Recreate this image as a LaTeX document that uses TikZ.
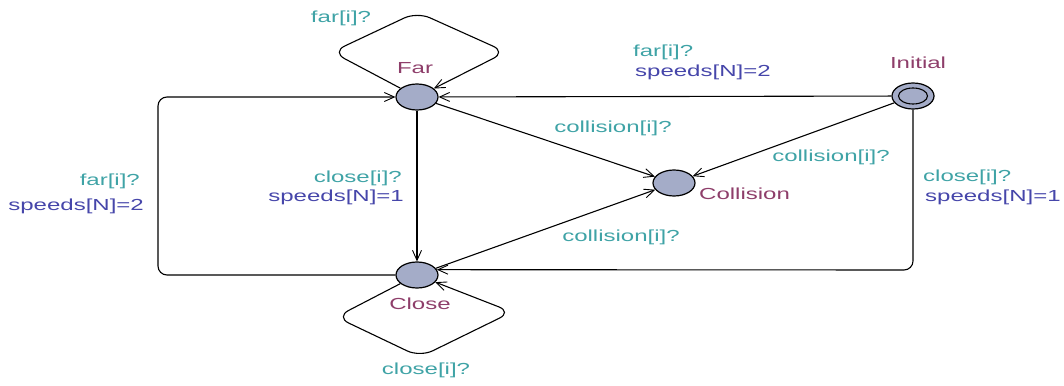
\documentclass[tikz,border=0pt]{standalone}
\usepackage{fontspec}
\usetikzlibrary{shapes.geometric,arrows.meta}
\newfontfamily\labfont[FakeStretch=1.5]{Liberation Sans}
\definecolor{syncc}{HTML}{3FA3A6}
\definecolor{updc}{HTML}{4646AA}
\definecolor{locc}{HTML}{8E3E6A}
\definecolor{locfill}{HTML}{A4ACC8}
\tikzset{
  loc/.style={ellipse, draw=black, line width=1.2pt, fill=locfill,
    minimum width=42pt, minimum height=26pt, inner sep=0pt},
  edge/.style={draw=black, line width=1.1pt,
    -{Straight Barb[length=10pt,width=9pt,line width=0.9pt]}},
  txt/.style={font=\labfont\fontsize{16}{19}\selectfont, inner sep=0pt},
  sync/.style={txt, text=syncc},
  upd/.style={txt, text=updc},
  lname/.style={txt, text=locc}
}
\begin{document}
\begin{tikzpicture}[x=1pt,y=-1pt]
\useasboundingbox (0,0) rectangle (1064,385);

% locations
\node[loc] (far) at (417,97) {};
\node[loc] (col) at (674,183) {};
\node[loc] (close) at (417,275) {};
\node[loc] (init) at (913,96) {};
\node[ellipse, draw=black, line width=1.1pt, minimum width=29pt,
      minimum height=16pt, inner sep=0pt] (initin) at (init) {};

% location names
\node[lname] (nfar) at (415,68) {Far};
\node[lname] (ninit) at (918,63) {Initial};
\node[lname, anchor=west] (ncol) at (699,194) {Collision};
\node[lname] (nclose) at (420,304) {Close};

% bend points
\coordinate (fl) at (332,52);
\coordinate (ft) at (417,12);
\coordinate (fr) at (506,52);
\coordinate (cl) at (336,317);
\coordinate (cb) at (420,357);
\coordinate (cr) at (512,312);
\coordinate (lb) at (158,275);
\coordinate (lt) at (158,97);
\coordinate (rb) at (913,270);

% edges
\draw[edge, rounded corners=14pt] (far) -- (fl) -- (ft) -- (fr) -- (far);
\draw[edge, rounded corners=14pt] (close) -- (cl) -- (cb) -- (cr) -- (close);
\draw[edge] (init) -- (far);
\draw[edge] (far) -- (col);
\draw[edge] (init) -- (col);
\draw[edge] (far) -- (close);
\draw[edge] (close) -- (col);
\draw[edge, rounded corners=9pt] (init) -- (rb) -- (close.15);
\draw[edge, rounded corners=9pt] (close) -- (lb) -- (lt) -- (far);

% edge labels
\node[sync] (l1) at (341,18) {far[i]?};
\node[sync, anchor=west] (l2) at (633,52) {far[i]?};
\node[upd, anchor=west] (l3) at (635,72) {speeds[N]=2};
\node[sync] (l4) at (613,128) {collision[i]?};
\node[sync] (l5) at (831,157) {collision[i]?};
\node[sync, anchor=west] (l6) at (923,177) {close[i]?};
\node[upd, anchor=west] (l7) at (925,197) {speeds[N]=1};
\node[sync] (l8) at (621,237) {collision[i]?};
\node[sync, anchor=east] (l9) at (140,181) {far[i]?};
\node[upd, anchor=east] (l10) at (144,206) {speeds[N]=2};
\node[sync, anchor=east] (l11) at (402,178) {close[i]?};
\node[upd, anchor=east] (l12) at (404,197) {speeds[N]=1};
\node[sync] (l13) at (426,370) {close[i]?};
\end{tikzpicture}
\end{document}
